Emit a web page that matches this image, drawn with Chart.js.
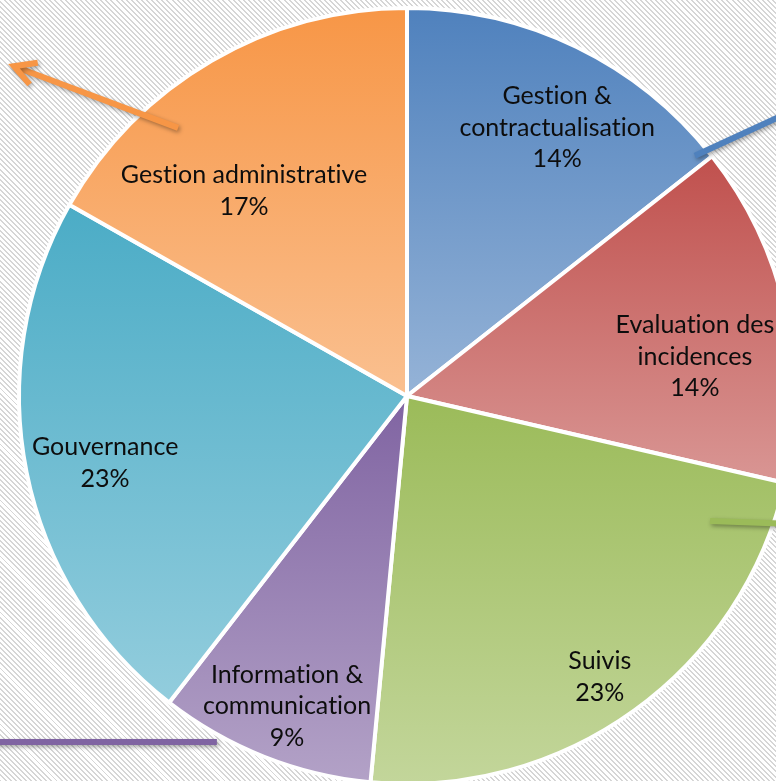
<!DOCTYPE html>
<html>
  <head>
    <script src="https://cdn.jsdelivr.net/npm/chart.js@4/dist/chart.umd.min.js"></script>
    <style>
      html, body { margin: 0; padding: 0; width: 776px; height: 781px; overflow: hidden; }
      body {
        background: repeating-linear-gradient(45deg, #d6d6d6 0px, #d6d6d6 1.4px, #ffffff 1.4px, #ffffff 3.6px);
      }
      #wrap { position: absolute; left: 0; top: 0; width: 814px; height: 792px; }
    </style>
  </head>

  <body>
    <div id="wrap">
      <canvas id="graph" width="814" height="792"></canvas>
    </div>
    <script>
      // categories, clockwise from 12 o'clock
      const categories = [
        ['Gestion &', 'contractualisation'],
        ['Evaluation des', 'incidences'],
        ['Suivis'],
        ['Information &', 'communication'],
        ['Gouvernance'],
        ['Gestion administrative'],
      ];
      const shares = [14.4, 14.2, 22.9, 9.0, 22.7, 16.8];

      const darkColors = ['#4f81bd', '#c0504d', '#9bbb59', '#8064a2', '#4bacc6', '#f79646'];
      const lightColors = ['#95b3d7', '#d99694', '#c3d69b', '#b3a2c7', '#93cddd', '#fac090'];

      // label centres, relative to pie centre in radius units
      const labelOffsets = [
        [0.387, -0.691], [0.742, -0.101], [0.497, 0.724],
        [-0.309, 0.799], [-0.778, 0.173], [-0.420, -0.528],
      ];

      const total = shares.reduce((a, b) => a + b, 0);

      // vertical gradient over each slice's own height (like Office fills)
      function sliceFill(ctx) {
        const chart = ctx.chart;
        const area = chart.chartArea;
        const i = ctx.dataIndex;
        if (!area) return darkColors[i];
        const cx = (area.left + area.right) / 2;
        const cy = (area.top + area.bottom) / 2;
        const r = Math.min(area.right - area.left, area.bottom - area.top) / 2;
        let before = 0;
        for (let k = 0; k < i; k++) before += shares[k];
        const s = -Math.PI / 2 + (2 * Math.PI * before) / total;
        const e = s + (2 * Math.PI * shares[i]) / total;
        const ys = [cy, cy + r * Math.sin(s), cy + r * Math.sin(e)];
        [-Math.PI / 2, Math.PI / 2, 1.5 * Math.PI].forEach((a) => {
          if (a >= s && a <= e) ys.push(cy + r * Math.sin(a));
        });
        const y0 = Math.min(...ys), y1 = Math.max(...ys);
        const g = chart.ctx.createLinearGradient(0, y0, 0, y1);
        g.addColorStop(0, darkColors[i]);
        g.addColorStop(1, lightColors[i]);
        return g;
      }

      const extras = {
        id: 'extras',
        afterDatasetsDraw(chart) {
          const arc = chart.getDatasetMeta(0).data[0];
          const cx = arc.x, cy = arc.y, r = arc.outerRadius;
          const c = chart.ctx;
          const P = (u, v) => [cx + u * r, cy + v * r];

          // leader lines left over in the original picture
          const lines = [
            { col: '#f79646', a: P(-0.590, -0.691), b: P(-1.013, -0.850), head: true },
            { col: '#4f81bd', a: P(0.742, -0.619), b: P(0.995, -0.736) },
            { col: '#9bbb59', a: P(0.781, 0.322), b: P(0.995, 0.330) },
            { col: '#8064a2', a: P(-0.490, 0.892), b: P(-1.07, 0.892) },
          ];
          c.save();
          c.lineWidth = 6;
          c.lineCap = 'butt';
          c.lineJoin = 'miter';
          c.shadowColor = 'rgba(0,0,0,0.35)';
          c.shadowBlur = 4;
          c.shadowOffsetX = 1.5;
          c.shadowOffsetY = 2;
          lines.forEach((l) => {
            c.strokeStyle = l.col;
            c.beginPath();
            c.moveTo(l.a[0], l.a[1]);
            c.lineTo(l.b[0], l.b[1]);
            c.stroke();
            if (l.head) {
              const ang = Math.atan2(l.b[1] - l.a[1], l.b[0] - l.a[0]);
              const len = 24;
              c.beginPath();
              c.moveTo(l.b[0] - len * Math.cos(ang - 0.5), l.b[1] - len * Math.sin(ang - 0.5));
              c.lineTo(l.b[0], l.b[1]);
              c.lineTo(l.b[0] - len * Math.cos(ang + 0.5), l.b[1] - len * Math.sin(ang + 0.5));
              c.stroke();
            }
          });
          c.restore();

          // data labels
          c.save();
          c.fillStyle = '#0d0d0d';
          c.font = '25px Lato';
          if ('letterSpacing' in c) c.letterSpacing = '0.01px'; // no "ti" ligature
          c.textAlign = 'center';
          c.textBaseline = 'middle';
          const lh = 31.5;
          categories.forEach((lines, i) => {
            const txt = lines.concat([Math.round(shares[i]) + '%']);
            const [x, y] = P(labelOffsets[i][0], labelOffsets[i][1]);
            const top = y - ((txt.length - 1) * lh) / 2;
            txt.forEach((t, k) => c.fillText(t, x, top + k * lh));
          });
          c.restore();
        },
      };

      new Chart(document.getElementById('graph').getContext('2d'), {
        type: 'pie',
        data: {
          labels: categories.map((l) => l.join(' ')),
          datasets: [
            {
              data: shares,
              backgroundColor: sliceFill,
              borderColor: '#ffffff',
              borderWidth: 4,
            },
          ],
        },
        options: {
          responsive: false,
          animation: false,
          layout: { padding: 6 },
          plugins: {
            legend: { display: false },
            tooltip: { enabled: false },
          },
        },
        plugins: [extras],
      });
    </script>
  </body>
</html>
